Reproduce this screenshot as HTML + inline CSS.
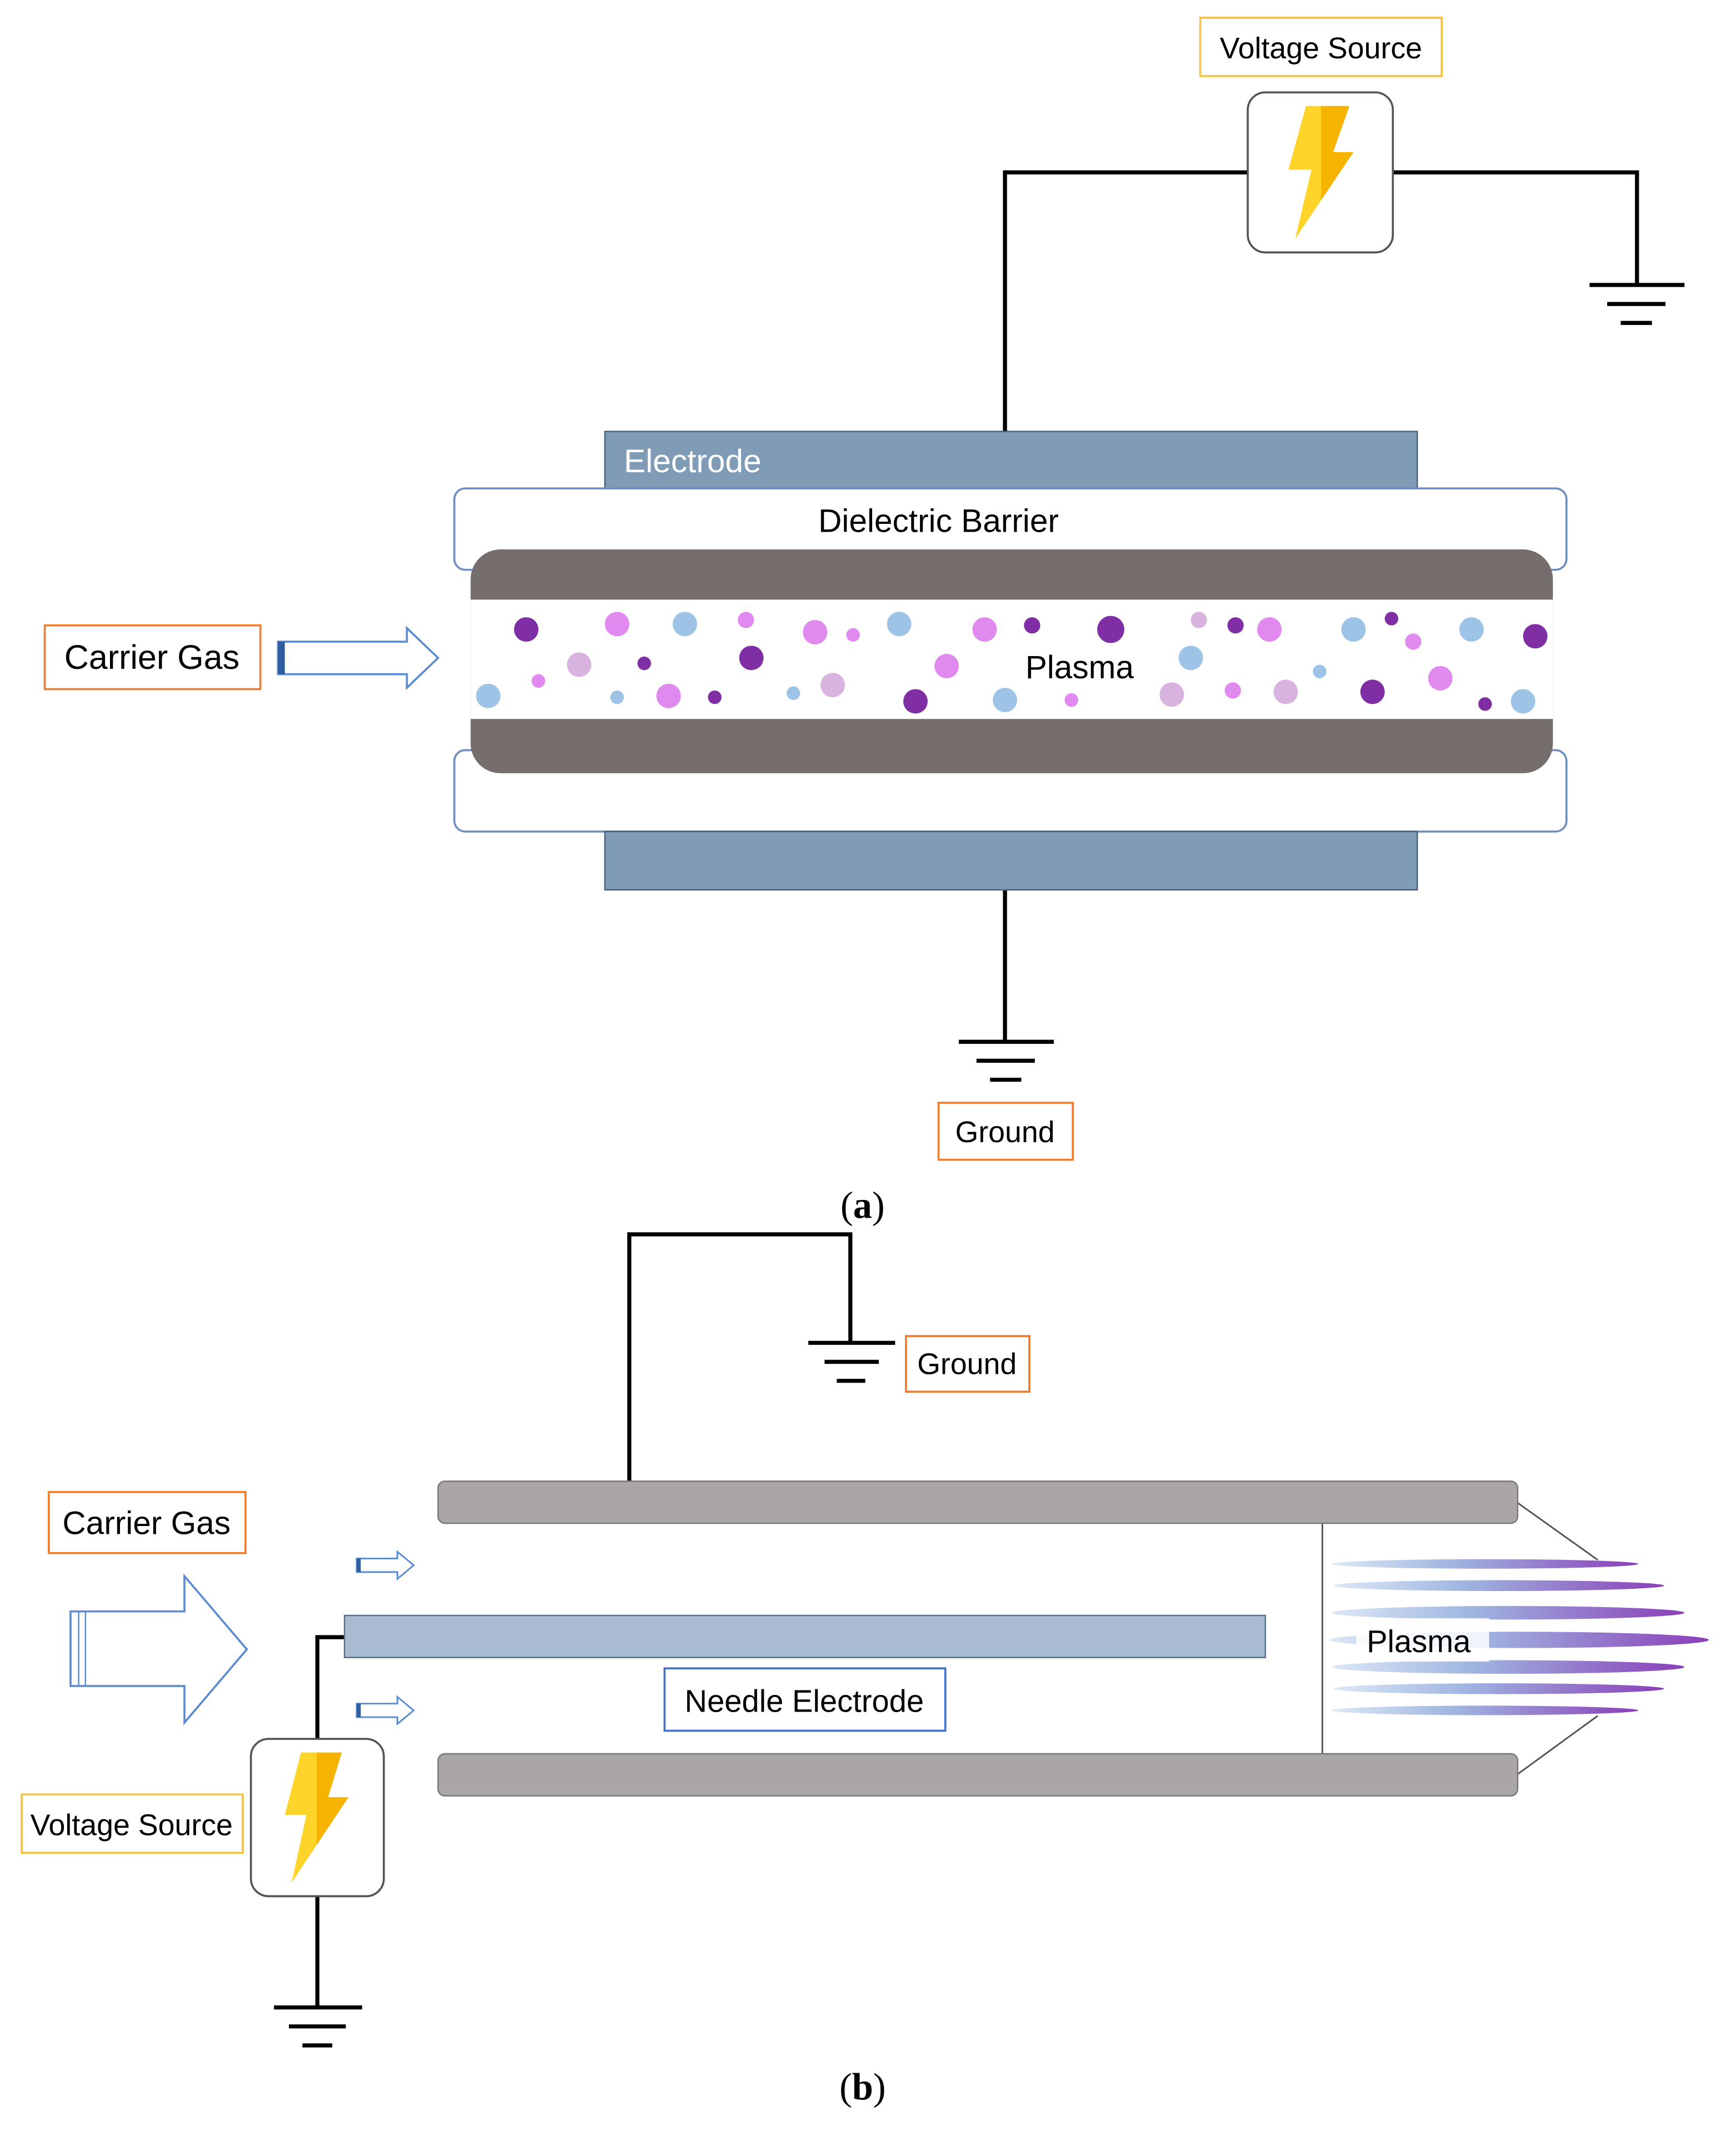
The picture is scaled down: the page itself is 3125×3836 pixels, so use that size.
<!DOCTYPE html>
<html><head><meta charset="utf-8"><style>html,body{margin:0;padding:0;background:#fff}svg{display:block}text{font-family:"Liberation Sans",sans-serif}</style></head><body>
<svg width="3125" height="3836" viewBox="0 0 1280 1571" xmlns="http://www.w3.org/2000/svg">
<defs>
<linearGradient id="pl" x1="0" x2="1"><stop offset="0" stop-color="#dce8f6"/><stop offset="0.4" stop-color="#9fb5e0"/><stop offset="1" stop-color="#8a3fb8"/></linearGradient>
<linearGradient id="bolt" x1="0" x2="1"><stop offset="0.5" stop-color="#ffd42a"/><stop offset="0.5" stop-color="#f6b400"/></linearGradient>
</defs>
<rect width="1280" height="1571" fill="#fff"/>
<!-- (a) -->
<rect x="885" y="13" width="178" height="43" fill="#fff" stroke="#f5c242" stroke-width="1.5"/>
<text x="974" y="43" font-size="22" text-anchor="middle">Voltage Source</text>
<g fill="none" stroke="#000" stroke-width="3">
<polyline points="920,127 741,127 741,318"/>
<polyline points="1027,127 1207,127 1207,210"/>
<line x1="1172" y1="210" x2="1242" y2="210"/><line x1="1185" y1="224" x2="1228" y2="224"/><line x1="1195" y1="238" x2="1218" y2="238"/>
<line x1="741" y1="656" x2="741" y2="768"/>
<line x1="707" y1="768" x2="777" y2="768"/><line x1="720" y1="782" x2="763" y2="782"/><line x1="730" y1="796" x2="753" y2="796"/>
</g>
<rect x="920" y="68" width="107" height="118" rx="13" fill="#fff" stroke="#555" stroke-width="1.5"/>
<polygon points="963,78 995,78 983,112 998,112 955,176 967,125 950,125" fill="url(#bolt)"/>
<rect x="446" y="318" width="599" height="42" fill="#7f9bb5" stroke="#4a5f78"/>
<text x="460" y="348" font-size="24" fill="#fff">Electrode</text>
<rect x="335" y="360" width="820" height="60" rx="8" fill="#fff" stroke="#6f8fbf" stroke-width="1.5"/>
<text x="692" y="392" font-size="24" text-anchor="middle">Dielectric Barrier</text>
<rect x="335" y="553" width="820" height="60" rx="8" fill="#fff" stroke="#6f8fbf" stroke-width="1.5"/>
<rect x="446" y="613" width="599" height="43" fill="#7f9bb5" stroke="#4a5f78"/>
<rect x="347" y="405" width="798" height="165" rx="22" fill="#756e6c"/>
<rect x="347" y="442" width="798" height="88" fill="#fff"/>
<g>
<circle cx="388" cy="464" r="9" fill="#7f2fa3"/><circle cx="455" cy="460" r="9" fill="#e08af0"/><circle cx="505" cy="460" r="9" fill="#9dc3e6"/><circle cx="550" cy="457" r="6" fill="#e08af0"/><circle cx="601" cy="466" r="9" fill="#e08af0"/><circle cx="629" cy="468" r="5" fill="#e08af0"/><circle cx="663" cy="460" r="9" fill="#9dc3e6"/><circle cx="726" cy="464" r="9" fill="#e08af0"/><circle cx="761" cy="461" r="6" fill="#7f2fa3"/><circle cx="819" cy="464" r="10" fill="#7f2fa3"/><circle cx="884" cy="457" r="6" fill="#d9b3e0"/><circle cx="911" cy="461" r="6" fill="#7f2fa3"/><circle cx="936" cy="464" r="9" fill="#e08af0"/><circle cx="998" cy="464" r="9" fill="#9dc3e6"/><circle cx="1026" cy="456" r="5" fill="#7f2fa3"/><circle cx="1042" cy="473" r="6" fill="#e08af0"/><circle cx="1085" cy="464" r="9" fill="#9dc3e6"/><circle cx="1132" cy="469" r="9" fill="#7f2fa3"/>
<circle cx="360" cy="513" r="9" fill="#9dc3e6"/><circle cx="397" cy="502" r="5" fill="#e08af0"/><circle cx="427" cy="490" r="9" fill="#d9b3e0"/><circle cx="455" cy="514" r="5" fill="#9dc3e6"/><circle cx="475" cy="489" r="5" fill="#7f2fa3"/><circle cx="493" cy="513" r="9" fill="#e08af0"/><circle cx="527" cy="514" r="5" fill="#7f2fa3"/><circle cx="554" cy="485" r="9" fill="#7f2fa3"/><circle cx="585" cy="511" r="5" fill="#9dc3e6"/><circle cx="614" cy="505" r="9" fill="#d9b3e0"/><circle cx="675" cy="517" r="9" fill="#7f2fa3"/><circle cx="698" cy="491" r="9" fill="#e08af0"/><circle cx="741" cy="516" r="9" fill="#9dc3e6"/><circle cx="790" cy="516" r="5" fill="#e08af0"/><circle cx="864" cy="512" r="9" fill="#d9b3e0"/><circle cx="878" cy="485" r="9" fill="#9dc3e6"/><circle cx="909" cy="509" r="6" fill="#e08af0"/><circle cx="948" cy="510" r="9" fill="#d9b3e0"/><circle cx="973" cy="495" r="5" fill="#9dc3e6"/><circle cx="1012" cy="510" r="9" fill="#7f2fa3"/><circle cx="1062" cy="500" r="9" fill="#e08af0"/><circle cx="1095" cy="519" r="5" fill="#7f2fa3"/><circle cx="1123" cy="517" r="9" fill="#9dc3e6"/>
</g>
<text x="796" y="500" font-size="24" text-anchor="middle">Plasma</text>
<rect x="33" y="461" width="159" height="47" fill="#fff" stroke="#ed7d31" stroke-width="1.5"/>
<text x="112" y="493" font-size="25" text-anchor="middle">Carrier Gas</text>
<polygon points="205,473 300,473 300,463 323,485 300,507 300,497 205,497" fill="#fff" stroke="#5b8bd0" stroke-width="1.5"/>
<rect x="205" y="473" width="5" height="24" fill="#2e5e9e"/>
<rect x="692" y="813" width="99" height="42" fill="#fff" stroke="#ed7d31" stroke-width="1.5"/>
<text x="741" y="842" font-size="22" text-anchor="middle">Ground</text>
<text x="636" y="898" font-size="28" text-anchor="middle" style="font-family:'Liberation Serif',serif">(<tspan font-weight="bold">a</tspan>)</text>
<!-- (b) -->
<g fill="none" stroke="#000" stroke-width="3">
<polyline points="464,1092 464,910 627,910 627,990"/>
<line x1="596" y1="990" x2="660" y2="990"/><line x1="608" y1="1004" x2="648" y2="1004"/><line x1="617" y1="1018" x2="638" y2="1018"/>
<polyline points="234,1282 234,1207 254,1207"/>
<line x1="234" y1="1398" x2="234" y2="1480"/>
<line x1="202" y1="1480" x2="267" y2="1480"/><line x1="213" y1="1494" x2="255" y2="1494"/><line x1="223" y1="1508" x2="245" y2="1508"/>
</g>
<rect x="668" y="985" width="91" height="41" fill="#fff" stroke="#ed7d31" stroke-width="1.5"/>
<text x="713" y="1013" font-size="22" text-anchor="middle">Ground</text>
<g stroke="#555" stroke-width="1.2">
<line x1="975" y1="1123" x2="975" y2="1293"/>
<line x1="1119" y1="1108" x2="1178" y2="1150"/><line x1="1119" y1="1308" x2="1178" y2="1265"/>
</g>
<g fill="url(#pl)">
<ellipse cx="1095" cy="1153" rx="113" ry="3.5"/>
<ellipse cx="1105" cy="1169" rx="122" ry="4"/>
<ellipse cx="1112" cy="1189" rx="130" ry="5"/>
<ellipse cx="1120" cy="1209" rx="140" ry="6"/>
<ellipse cx="1112" cy="1229" rx="130" ry="5"/>
<ellipse cx="1105" cy="1245" rx="122" ry="4"/>
<ellipse cx="1095" cy="1261" rx="113" ry="3.5"/>
</g>
<rect x="1000" y="1193" width="98" height="32" fill="#fff" opacity="0.85"/>
<text x="1046" y="1218" font-size="23" text-anchor="middle">Plasma</text>
<rect x="323" y="1092" width="796" height="31" rx="5" fill="#aaa6a5" stroke="#777"/>
<rect x="323" y="1293" width="796" height="31" rx="5" fill="#aaa6a5" stroke="#777"/>
<rect x="254" y="1191" width="679" height="31" fill="#a8bbd0" stroke="#5a6f86"/>
<rect x="490" y="1230" width="207" height="46" fill="#fff" stroke="#4472c4" stroke-width="1.5"/>
<text x="593" y="1262" font-size="23" text-anchor="middle">Needle  Electrode</text>
<rect x="36" y="1100" width="145" height="45" fill="#fff" stroke="#ed7d31" stroke-width="1.5"/>
<text x="108" y="1131" font-size="24" text-anchor="middle">Carrier Gas</text>
<polygon points="52,1188 136,1188 136,1162 182,1216 136,1270 136,1243 52,1243" fill="#fff" stroke="#5b8bd0" stroke-width="1.5"/>
<line x1="58" y1="1188" x2="58" y2="1243" stroke="#5b8bd0"/><line x1="63" y1="1188" x2="63" y2="1243" stroke="#5b8bd0"/>
<polygon points="263,1149 293,1149 293,1144 305,1154 293,1164 293,1159 263,1159" fill="#fff" stroke="#5b8bd0" stroke-width="1.2"/>
<rect x="263" y="1149" width="3" height="10" fill="#2e5e9e"/>
<polygon points="263,1256 293,1256 293,1251 305,1261 293,1271 293,1266 263,1266" fill="#fff" stroke="#5b8bd0" stroke-width="1.2"/>
<rect x="263" y="1256" width="3" height="10" fill="#2e5e9e"/>
<rect x="185" y="1282" width="98" height="116" rx="13" fill="#fff" stroke="#555" stroke-width="1.5"/>
<polygon points="222,1292 252,1292 242,1325 257,1325 215,1388 226,1338 210,1338" fill="url(#bolt)"/>
<rect x="16" y="1323" width="163" height="43" fill="#fff" stroke="#f5c242" stroke-width="1.5"/>
<text x="97" y="1353" font-size="22" text-anchor="middle">Voltage Source</text>
<text x="636" y="1548" font-size="28" text-anchor="middle" style="font-family:'Liberation Serif',serif">(<tspan font-weight="bold">b</tspan>)</text>
</svg>
</body></html>
